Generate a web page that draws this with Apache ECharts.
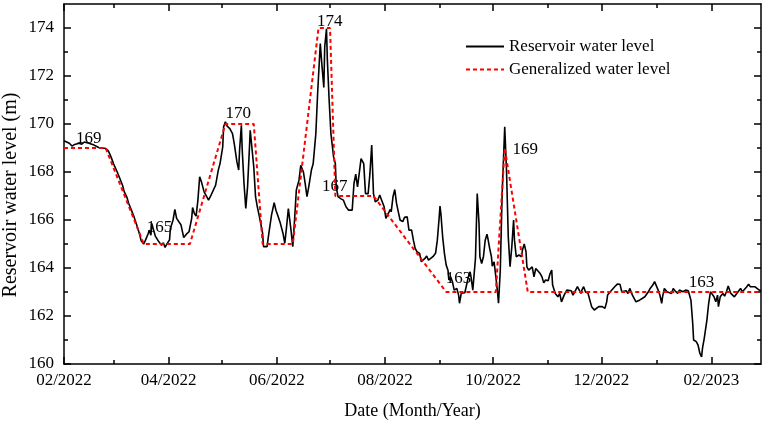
<!DOCTYPE html>
<html><head><meta charset="utf-8">
<script src="https://cdn.jsdelivr.net/npm/echarts@6/dist/echarts.min.js"></script>
<style>html,body{margin:0;padding:0;background:#fff}#c{width:764px;height:424px}</style>
</head><body><div id="c"></div>
<script>
// x values are days since 1 Feb 2022
const startDate = [2022, 1, 1];
const endDate = [2023, 2, 1];
const majorTickMonths = [[2022,1],[2022,3],[2022,5],[2022,7],[2022,9],[2022,11],[2023,1]];
const minorTickMonths = [[2022,2],[2022,4],[2022,6],[2022,8],[2022,10],[2022,12],[2023,0]];
const yMajorTicks = [160,162,164,166,168,170,172,174];
const yMinorTicks = [161,163,165,167,169,171,173];

const reservoirLevel = [[0,169.30],[3,169.20],[4.5,169.08],[6,169.15],[7,169.08],[8.5,169.20],[10,169.16],[11.5,169.25],[14,169.20],[17,169.12],[19.5,169.02],[21.5,169.00],[23.5,168.98],[25,168.88],[26.5,168.63],[28,168.33],[30,168.00],[31.5,167.73],[33,167.45],[34,167.17],[35.5,166.94],[36.5,166.69],[38,166.41],[39.5,166.13],[41,165.79],[42.5,165.44],[43.5,165.14],[45,165.00],[45.5,164.92],[46,165.17],[47.5,165.44],[48,165.58],[49,165.37],[49.5,165.86],[50.5,165.58],[51.5,165.33],[53.5,165.09],[55,164.95],[56,165.05],[57,164.86],[58,165.00],[58.5,164.92],[59.5,165.17],[60,165.65],[61.5,166.00],[62.5,166.44],[63.5,166.07],[64,166.11],[66,165.79],[66.5,165.61],[67.5,165.27],[69,165.41],[69.5,165.33],[70.5,165.51],[72,166.07],[72.5,166.52],[73.5,166.27],[74.5,166.16],[75.5,166.83],[76.5,167.80],[77.5,167.59],[79,167.17],[80,167.04],[81.5,166.83],[82.5,166.97],[85.5,167.45],[87,168.08],[88,168.36],[89.5,169.05],[90,169.88],[91,170.09],[92,169.91],[93.5,169.81],[95,169.60],[96,169.18],[97.5,168.42],[98.5,168.08],[99,168.91],[100,169.95],[100.5,168.91],[101.5,167.52],[102.5,166.48],[103.5,167.38],[104.5,168.91],[105,169.74],[106,169.81],[107,168.21],[108,166.97],[109,166.55],[110,166.20],[111,166.13],[112,165.44],[112.5,164.89],[114.5,164.89],[115.5,165.44],[117,166.20],[118.5,166.72],[119.5,166.41],[120.5,166.20],[121,166.27],[122,165.86],[123.5,165.44],[124.5,165.03],[125.5,165.72],[126.5,166.48],[127.5,166.48],[128,165.58],[129,164.89],[130,166.00],[131,167.25],[132.5,167.66],[133.5,168.28],[135,168.00],[136,167.52],[137,166.97],[138,167.38],[139.5,168.08],[140.5,168.35],[142,169.60],[143,171.27],[144.5,173.35],[145.5,172.38],[146.5,171.52],[147,173.21],[148,173.97],[148.5,172.66],[149.5,170.99],[150.5,169.60],[152,168.63],[153,168.35],[153.5,167.38],[154.5,166.97],[156,166.89],[157.5,166.83],[159,166.55],[160.5,166.41],[162.5,166.41],[163.5,167.52],[164.5,167.91],[165.5,167.38],[166.5,167.31],[167.5,168.56],[169,168.35],[170,167.10],[171.5,167.10],[172.5,167.94],[173.5,169.12],[174.5,167.10],[175.5,166.76],[177,166.83],[178,167.04],[179,166.97],[180.5,166.55],[181.5,166.07],[182.5,166.00],[184,166.44],[184.5,166.34],[185.5,166.97],[186.5,167.27],[187.5,166.69],[188.5,166.34],[189.5,166.00],[191,165.93],[192,166.11],[193.5,166.13],[194.5,165.58],[196,165.58],[197,165.16],[198,164.82],[199,164.68],[200.5,164.61],[201.5,164.26],[202.5,164.19],[203.5,164.40],[204.5,164.50],[205.5,164.33],[206.5,164.40],[208,164.47],[209.5,164.61],[210.5,165.16],[211.5,166.07],[212,166.58],[212.5,166.27],[213.5,165.30],[214.5,164.61],[215.5,164.12],[216.5,163.91],[217,163.50],[218,163.63],[219,163.43],[220,163.08],[221.5,163.15],[222.5,162.87],[223,162.53],[224,162.95],[225,162.87],[226,162.97],[227,162.95],[228,163.63],[229,163.84],[229.5,163.63],[230.5,163.08],[231,163.08],[232,164.40],[233,167.10],[234,165.86],[234.5,164.47],[235.5,164.19],[236.5,164.47],[237.5,165.16],[238.5,165.41],[239,165.23],[240,164.82],[241,164.47],[241.5,164.08],[242.5,164.26],[243.5,163.63],[244.5,162.95],[245,162.53],[246,163.91],[247,166.97],[248.5,169.88],[249.5,168.08],[250.5,165.30],[251.5,164.05],[252.5,164.89],[253.5,166.00],[254,165.16],[255,164.47],[256.5,164.54],[258,164.47],[258.5,164.75],[259.5,165.00],[260.5,164.68],[261,164.05],[262,163.91],[263,163.84],[264,164.05],[265,163.63],[266,163.98],[267,163.91],[268.5,163.77],[269.5,163.63],[270.5,163.38],[271.5,163.50],[273,163.47],[274,163.75],[275,163.91],[275.5,163.29],[277,162.94],[277.5,163.01],[278.5,162.80],[279.5,162.94],[280.5,162.59],[282,162.87],[283.5,163.08],[284.5,163.01],[286,163.05],[287,162.87],[288.5,163.08],[289.5,163.22],[290.5,163.08],[291.5,162.94],[292,163.08],[293,163.22],[294,163.01],[295.5,162.94],[296.5,162.66],[297.5,162.39],[299,162.25],[300,162.32],[301.5,162.39],[302.5,162.46],[303.5,162.39],[305,162.32],[306,162.59],[306.5,162.87],[308,163.01],[309,162.94],[310.5,163.22],[312,163.33],[313.5,163.32],[314.5,163.01],[315.5,162.94],[317,163.05],[318,162.94],[319,163.15],[320.5,162.87],[321.5,162.80],[322.5,162.59],[323.5,162.55],[324.5,162.66],[326,162.73],[327.5,162.80],[328.5,162.87],[329.5,163.01],[330.5,163.15],[332,163.29],[333,163.43],[334,163.36],[335,163.08],[336,162.87],[337,162.53],[337.5,162.80],[338.5,163.15],[340,163.01],[341,163.08],[342.5,162.94],[343.5,163.15],[344.5,163.05],[346,162.94],[347,163.08],[348,163.15],[349,163.01],[350.5,163.08],[352,163.05],[353,163.01],[353.5,162.66],[354.5,161.69],[355,161.00],[356.5,160.93],[357.5,160.79],[358.5,160.45],[359.5,160.30],[360,160.65],[361,161.07],[362.5,161.83],[363.5,162.53],[364.5,163.01],[365.5,163.05],[366.5,162.80],[367.5,162.59],[368.5,162.87],[369,162.39],[370,162.80],[371.5,162.94],[372.5,162.83],[373.5,163.01],[374.5,163.25],[376,162.94],[377,162.87],[378,162.80],[379,162.87],[380.5,163.05],[381.5,163.15],[382.5,163.01],[383.5,163.08],[385,163.22],[386,163.33],[387,163.22],[388,163.29],[389.5,163.22],[390.5,163.15],[392,163.08],[393,163.05]];

const generalizedLevel = [[0,169],[23.5,169],[45,165],[71,165],[91,170],[107,170],[112,165],[129,165],[143.5,174],[150,174],[153,167],[174.5,167],[215.5,163],[243.5,163],[248.5,169],[261.5,163],[393,163]];

// text annotations: [day, level, text]
const annotations = [[13.9,169.41,'169'],[53.8,165.68,'165'],[98.2,170.44,'170'],[149.8,174.28,'174'],[152.6,167.41,'167'],[222.5,163.58,'163'],[260.1,168.95,'169'],[359.5,163.39,'163']];

const FONT = '"Liberation Serif", "Times New Roman", serif';
const DAY = 86400000;
const t0 = Date.UTC(startDate[0], startDate[1], startDate[2]);
function monthToDay(m) { return Math.round((Date.UTC(m[0], m[1], 1) - t0) / DAY); }
const xMax = monthToDay([endDate[0], endDate[1]]);
const majorDays = majorTickMonths.map(monthToDay);
const minorDays = minorTickMonths.map(monthToDay);
function fmt(v) {
  const d = new Date(t0 + v * DAY);
  const m = d.getUTCMonth() + 1;
  return (m < 10 ? '0' + m : m) + '/' + d.getUTCFullYear();
}
const black = '#000';
const lineW = 1.5;

function xAx(pos, ticks, len, showLine, withLabels) {
  const a = {
    type: 'value', position: pos, min: 0, max: xMax, gridIndex: 0,
    axisLine: {show: showLine, onZero: false, lineStyle: {color: black, width: lineW}},
    axisTick: {show: true, inside: true, length: len, customValues: ticks, lineStyle: {color: black, width: lineW}},
    axisLabel: {show: withLabels, customValues: ticks, formatter: fmt, color: black, fontFamily: FONT, fontSize: 17, margin: 8, hideOverlap: false},
    splitLine: {show: false}, minorTick: {show: false}, axisPointer: {show: false}
  };
  if (withLabels) {
    a.name = 'Date (Month/Year)';
    a.nameLocation = 'middle';
    a.nameGap = 38;
    a.nameMoveOverlap = false;
    a.nameTextStyle = {color: black, fontFamily: FONT, fontSize: 18};
  }
  return a;
}
function yAx(pos, ticks, len, showLine, withLabels) {
  const a = {
    type: 'value', position: pos, min: 160, max: 175, gridIndex: 0,
    axisLine: {show: showLine, onZero: false, lineStyle: {color: black, width: lineW}},
    axisTick: {show: true, inside: true, length: len, customValues: ticks, lineStyle: {color: black, width: lineW}},
    axisLabel: {show: withLabels, customValues: ticks, color: black, fontFamily: FONT, fontSize: 17, margin: 10},
    splitLine: {show: false}, minorTick: {show: false}
  };
  if (withLabels) {
    a.name = 'Reservoir water level (m)';
    a.nameLocation = 'middle';
    a.nameGap = 43;
    a.nameMoveOverlap = false;
    a.nameTextStyle = {color: black, fontFamily: FONT, fontSize: 20, padding: [0, 22, 0, 0]};
  }
  return a;
}

const chart = echarts.init(document.getElementById('c'), null, {renderer: 'canvas'});
chart.setOption({
  animation: false,
  backgroundColor: '#fff',
  grid: {left: 64, right: 3, top: 4, bottom: 60, containLabel: false, outerBoundsMode: 'none'},
  legend: {
    data: ['Reservoir water level', 'Generalized water level'],
    orient: 'vertical', left: 460, top: 33,
    itemWidth: 38, itemHeight: 2, itemGap: 6,
    itemStyle: {opacity: 0},
    textStyle: {color: black, fontFamily: FONT, fontSize: 17}
  },
  xAxis: [
    xAx('bottom', majorDays, 7, true, true),
    xAx('bottom', minorDays, 4, false, false),
    xAx('top', majorDays, 7, true, false),
    xAx('top', minorDays, 4, false, false)
  ],
  yAxis: [
    yAx('left', yMajorTicks, 7, true, true),
    yAx('left', yMinorTicks, 4, false, false),
    yAx('right', yMajorTicks, 7, true, false),
    yAx('right', yMinorTicks, 4, false, false)
  ],
  series: [
    {
      type: 'scatter', name: 'labels', xAxisIndex: 0, yAxisIndex: 0, z: 1, silent: true,
      symbolSize: 0,
      itemStyle: {opacity: 1, color: black},
      data: annotations.map(a => [a[0], a[1], a[2]]),
      label: {show: true, position: 'inside', formatter: p => p.data[2], color: black, opacity: 1, textBorderWidth: 0, fontFamily: FONT, fontSize: 17}
    },
    {
      type: 'line', name: 'Reservoir water level', xAxisIndex: 0, yAxisIndex: 0, z: 3,
      symbol: 'none', showSymbol: false,
      data: reservoirLevel,
      lineStyle: {color: black, width: 1.6},
      itemStyle: {color: black}
    },
    {
      type: 'line', name: 'Generalized water level', xAxisIndex: 0, yAxisIndex: 0, z: 4,
      symbol: 'none', showSymbol: false,
      data: generalizedLevel,
      lineStyle: {color: '#ff0000', width: 2, type: [4, 3]},
      itemStyle: {color: '#ff0000'}
    }
  ]
});
</script></body></html>
